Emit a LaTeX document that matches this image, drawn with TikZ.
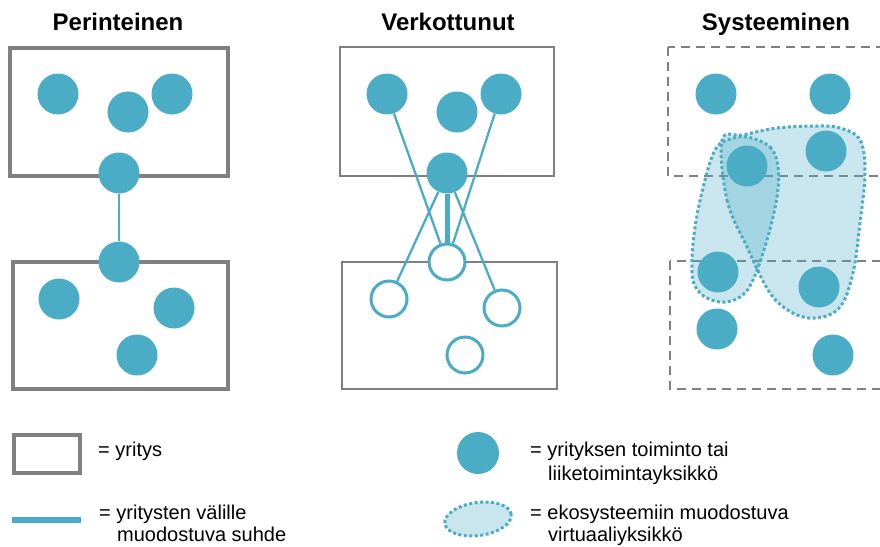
\documentclass[tikz,border=0pt]{standalone}
\usepackage{fontspec}
\setmainfont{Liberation Sans}
\usetikzlibrary{shapes.geometric}
\definecolor{aqua}{HTML}{4BACC6}
\definecolor{boxgray}{HTML}{808080}

\begin{document}
\begin{tikzpicture}[x=1pt,y=-1pt,
    unit/.style={circle,fill=aqua,inner sep=0pt,minimum size=41pt},
    hollow/.style={circle,draw=aqua,line width=3pt,fill=white,inner sep=0pt,minimum size=36pt},
    firm/.style={draw=boxgray,line width=4pt},
    netfirm/.style={draw=boxgray,line width=2.3pt},
    ecofirm/.style={draw=boxgray,line width=2.6pt,dash pattern=on 9pt off 6pt},
    link/.style={draw=aqua,line width=2.3pt},
    virtual/.style={draw=aqua,fill=aqua,fill opacity=0.3,draw opacity=1,line width=3pt,dash pattern=on 3pt off 2.5pt},
    title/.style={font=\fontsize{24}{28}\selectfont\bfseries,anchor=base},
    legend/.style={font=\fontsize{20}{25}\selectfont,anchor=base west,inner sep=0pt}]
    \useasboundingbox (0,0) rectangle (880,546);

    % otsikot
    \node[title] (tPer) at (118,30) {Perinteinen};
    \node[title] (tVer) at (448,30) {Verkottunut};
    \node[title] (tSys) at (776,30) {Systeeminen};

    % perinteinen
    \draw[firm] (10,48) rectangle (228,176);
    \draw[firm] (13,262) rectangle (228,389);
    \node[unit] (p1) at (58,94) {};
    \node[unit] (p2) at (128,112) {};
    \node[unit] (p3) at (172,94) {};
    \node[unit] (p4) at (119,173) {};
    \node[unit] (p5) at (119,262) {};
    \node[unit] (p6) at (59,299) {};
    \node[unit] (p7) at (174,308) {};
    \node[unit] (p8) at (137,355) {};
    \path[link] (p4) edge (p5);

    % verkottunut
    \draw[netfirm] (340,47) rectangle (554,176);
    \draw[netfirm] (342,262) rectangle (557,389);
    \node[unit] (v1) at (387,94) {};
    \node[unit] (v2) at (457,112) {};
    \node[unit] (v3) at (501,94) {};
    \node[unit] (v4) at (447,173) {};
    \node[hollow] (w1) at (447,262) {};
    \node[hollow] (w2) at (389,299) {};
    \node[hollow] (w3) at (502,308) {};
    \node[hollow] (w4) at (465,355) {};
    \path[link] (v1) edge (w1)
                (v3) edge (w1)
                (v4) edge (w2)
                (v4) edge (w3);
    \path[link,line width=5pt] (v4) edge (w1);

    % systeeminen
    \draw[ecofirm] (668,47) rectangle (895,176);
    \draw[ecofirm] (670,261) rectangle (895,389);
    \draw[virtual] plot[smooth cycle,tension=0.6] coordinates {
        (722,140) (727,200) (747,247) (770,293) (793,313) (817,318)
        (840,307) (853,273) (860,223) (865,173) (860,140) (840,128)
        (817,126) (777,128) (743,135)};
    \draw[virtual] plot[smooth cycle,tension=0.6] coordinates {
        (747,137) (770,147) (778,167) (777,197) (767,240) (753,280)
        (740,297) (720,302) (700,293) (692,273) (695,227) (705,180)
        (715,150) (727,140)};
    \node[unit] (s1) at (716,94) {};
    \node[unit] (s2) at (830,94) {};
    \node[unit] (s3) at (826,151) {};
    \node[unit] (s4) at (747,166) {};
    \node[unit] (s5) at (718,272) {};
    \node[unit] (s6) at (819,287) {};
    \node[unit] (s7) at (717,329) {};
    \node[unit] (s8) at (833,355) {};

    % selitteet
    \node[draw=boxgray,line width=4.5pt,minimum width=66pt,minimum height=38pt,inner sep=0pt] (lgFirm) at (47,454) {};
    \node[legend] (lgFirmTxt) at (98,456) {= yritys};
    \coordinate (lgLinkL) at (12,520);
    \coordinate (lgLinkR) at (81,520);
    \draw[aqua,line width=5.5pt] (lgLinkL) -- (lgLinkR);
    \node[legend] (lgLinkTxtA) at (99,519) {= yritysten välille};
    \node[legend] (lgLinkTxtB) at (117,541) {muodostuva suhde};
    \node[unit,minimum size=42pt] (lgUnit) at (478,453) {};
    \node[legend] (lgUnitTxtA) at (530,456) {= yrityksen toiminto tai};
    \node[legend] (lgUnitTxtB) at (548,480) {liiketoimintayksikkö};
    \node[virtual,ellipse,minimum width=67pt,minimum height=33pt,rotate=8] (lgVirt) at (478,519) {};
    \node[legend] (lgVirtTxtA) at (530,519) {= ekosysteemiin muodostuva};
    \node[legend] (lgVirtTxtB) at (548,541) {virtuaaliyksikkö};
\end{tikzpicture}
\end{document}
